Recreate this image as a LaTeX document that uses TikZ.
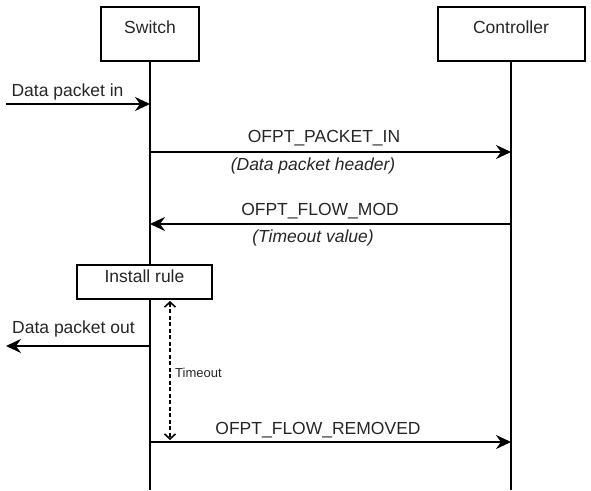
\documentclass[tikz,border=0pt]{standalone}
\usepackage{fontspec}
\setmainfont{Liberation Sans}
\usetikzlibrary{arrows.meta}
\begin{document}
\begin{tikzpicture}[x=1pt,y=-1pt,
  every node/.style={font=\fontsize{17.5}{20}\selectfont, inner sep=0pt, text=black!85},
  actor/.style={draw, line width=2pt, fill=white},
  life/.style={line width=2pt},
  msg/.style={line width=2pt, -{Stealth[length=15pt,width=14pt,inset=5pt]}},
  lbl/.style={anchor=center},
  note/.style={anchor=center, font=\fontsize{17.5}{20}\selectfont\itshape},
  tmo/.style={line width=2pt, dash pattern=on 4pt off 2.5pt, {Straight Barb[length=5pt,width=11pt,line width=1.6pt]}-{Straight Barb[length=5pt,width=11pt,line width=1.6pt]}}
]
\useasboundingbox (0,0) rectangle (591,490);
% lifelines
\coordinate (sBot) at (150,490);
\coordinate (cBot) at (511,490);
\node[actor, minimum width=98pt, minimum height=54pt] (sw) at (150,34) {};
\node[actor, minimum width=147pt, minimum height=54pt] (ct) at (511,34) {};
\draw[life] (sw.south) -- (sBot);
\draw[life] (ct.south) -- (cBot);
\node (swt) at (150,27) {Switch};
\node (ctt) at (511,27) {Controller};

% Data packet in
\coordinate (inL) at (6,104);
\coordinate (inR) at (150,104);
\draw[msg] (inL) -- (inR);
\node[lbl] (inLbl) at (67.5,92) {Data packet in};

% PACKET_IN
\coordinate (p1L) at (150,152);
\coordinate (p1R) at (511,152);
\draw[msg] (p1L) -- (p1R);
\node[lbl] (p1a) at (324,138) {OFPT\_PACKET\_IN};
\node[note] (p1b) at (313,166) {(Data packet header)};

% FLOW_MOD
\coordinate (p2L) at (150,224);
\coordinate (p2R) at (511,224);
\draw[msg] (p2R) -- (p2L);
\node[lbl] (p2a) at (320,211) {OFPT\_FLOW\_MOD};
\node[note] (p2b) at (313,238) {(Timeout value)};

% Install rule
\node[actor, minimum width=135pt, minimum height=34pt] (ir) at (144.5,282) {};
\node (irt) at (144.5,276) {Install rule};

% Data packet out
\coordinate (oR) at (150,346);
\coordinate (oL) at (6,346);
\draw[msg] (oR) -- (oL);
\node[lbl] (oLbl) at (73.5,329) {Data packet out};

% Timeout
\coordinate (tT) at (170,301);
\coordinate (tB) at (170,440);
\draw[tmo] (tT) -- (tB);
\node[anchor=west, font=\fontsize{13}{15}\selectfont] (tl) at (175,373) {Timeout};

% FLOW_REMOVED
\coordinate (p3L) at (150,442);
\coordinate (p3R) at (511,442);
\draw[msg] (p3L) -- (p3R);
\node[lbl] (p3a) at (318,430) {OFPT\_FLOW\_REMOVED};
\end{tikzpicture}
\end{document}
